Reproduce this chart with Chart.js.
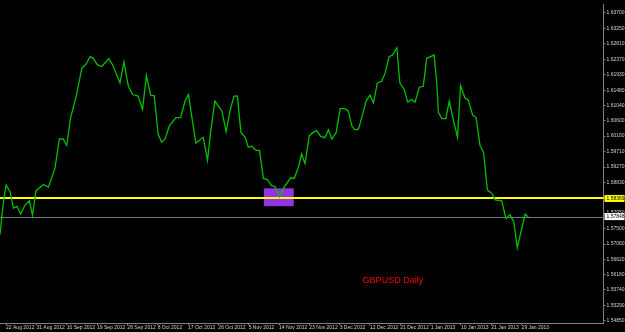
<!DOCTYPE html>
<html>
<head>
<meta charset="utf-8">
<script src="https://cdn.jsdelivr.net/npm/chart.js@4/dist/chart.umd.min.js"></script>
<style>
  html, body { margin: 0; padding: 0; background: #000; }
  canvas { display: block; }
</style>
</head>
<body>
<canvas id="myChart" width="625" height="332"></canvas>
<script>
// bar index (0 = 22 Aug 2012) and daily close
const dayIdx = [-1.4,-1.0,-0.5,0,0.9,1.7,2.5,3.4,4.4,5.4,6.1,6.9,8.6,9.8,11.3,12.3,13.2,14.0,14.9,16.2,
  17.5,18.5,19.4,20.1,21.1,22.1,23.7,24.6,26.3,27.2,28.2,29.2,30.5,31.5,32.4,33.4,34.2,35.1,35.9,36.7,
  37.7,39.2,40.3,41.3,42.1,42.9,43.8,45.5,46.5,47.2,48.2,49.8,50.8,51.7,52.6,53.4,54.2,55.2,55.9,56.7,
  57.7,58.5,59.4,60.3,61.3,62.1,63.1,64.0,65.7,66.5,67.5,68.2,69.0,70.0,70.9,71.7,72.6,73.6,74.4,75.2,
  76.2,77.1,78.2,79.0,79.8,80.5,81.3,82.1,83.1,84.0,84.8,85.7,86.7,87.5,88.4,89.2,90.2,90.9,91.9,92.7,
  93.6,94.4,95.4,96.3,97.1,98.8,99.4,99.8,100.6,101.5,102.3,103.2,104.2,104.9,105.9,106.7,107.7,108.5,109.4,110.2,
  111.1,112.1,112.9,114.4,115.4,116.3,117.2,118.0,119.8,120.5]

const closes = [1.57337,1.57808,1.58375,1.58755,1.58565,1.58091,1.58140,1.57921,1.58188,1.58301,
  1.57884,1.58585,1.58772,1.58699,1.59246,1.60077,1.60077,1.59890,1.60693,1.61308,
  1.62111,1.62233,1.62443,1.62395,1.62205,1.62160,1.62387,1.62205,1.61686,1.62282,
  1.61609,1.61354,1.61308,1.60928,1.61893,1.61326,1.61326,1.60219,1.59984,1.60077,
  1.60457,1.60693,1.60693,1.61167,1.61354,1.60693,1.59964,1.60126,1.59465,1.60267,
  1.61167,1.60883,1.60287,1.60883,1.61308,1.61308,1.60267,1.60126,1.59842,1.59870,
  1.59748,1.59748,1.58943,1.58914,1.58735,1.58707,1.58423,1.58659,1.58962,1.58943,
  1.59274,1.59652,1.59368,1.60174,1.60267,1.60316,1.60154,1.60117,1.60344,1.60077,
  1.60267,1.60948,1.60948,1.60883,1.60457,1.60344,1.60344,1.60693,1.61167,1.61337,
  1.61118,1.61686,1.61734,1.61969,1.62443,1.62489,1.62699,1.61686,1.61496,1.61138,
  1.61212,1.61138,1.61564,1.61592,1.62395,1.62489,1.61706,1.60835,1.60665,1.60665,
  1.61167,1.60645,1.60126,1.61609,1.61260,1.61195,1.60758,1.60693,1.59890,1.59700,
  1.58613,1.58517,1.58330,1.58301,1.57791,1.57904,1.57694,1.56957,1.57921,1.57836]

const dateTicks = [0,7,14,21,28,35,42,49,56,63,70,77,84,91,98,105,112,119]
const dateLabels = ['22 Aug 2012','31 Aug 2012','10 Sep 2012','19 Sep 2012','28 Sep 2012','8 Oct 2012',
  '17 Oct 2012','26 Oct 2012','5 Nov 2012','14 Nov 2012','23 Nov 2012','3 Dec 2012','12 Dec 2012',
  '21 Dec 2012','1 Jan 2013','10 Jan 2013','21 Jan 2013','29 Jan 2013']

const priceTicks = [1.63700,1.63250,1.62810,1.62370,1.61930,1.61480,1.61040,1.60600,1.60160,1.59710,
  1.59270,1.58830,1.58390,1.57950,1.57500,1.57060,1.56620,1.56180,1.55740,1.55290,1.54850]

const levelLine = 1.58369
const bidLine = 1.57848
const zoneBox = { x1: 59.5, x2: 66.4, top: 1.58659, bottom: 1.58148 }
const caption = { text: 'GBPUSD Daily', x: 82.3, y: 1.56012 }

const axisFont = { family: 'Liberation Sans', size: 5 }

// rectangle + horizontal lines under the price line
const overlayPlugin = {
  id: 'overlay',
  beforeDatasetsDraw: chart => {
    const { ctx, chartArea, scales: { x, y } } = chart
    ctx.save()
    ctx.fillStyle = '#9632e6'
    const bx = x.getPixelForValue(zoneBox.x1), by = y.getPixelForValue(zoneBox.top)
    ctx.fillRect(bx, by, x.getPixelForValue(zoneBox.x2) - bx, y.getPixelForValue(zoneBox.bottom) - by)

    ctx.strokeStyle = '#70788a'
    ctx.lineWidth = 1
    let py = Math.round(y.getPixelForValue(bidLine)) + 0.5
    ctx.beginPath(); ctx.moveTo(chartArea.left, py); ctx.lineTo(chartArea.right, py); ctx.stroke()

    ctx.strokeStyle = '#ffff00'
    ctx.lineWidth = 2
    py = Math.round(y.getPixelForValue(levelLine))
    ctx.beginPath(); ctx.moveTo(chartArea.left, py); ctx.lineTo(chartArea.right, py); ctx.stroke()
    ctx.restore()
  },
  afterDraw: chart => {
    const { ctx, chartArea, scales: { x, y } } = chart
    ctx.save()
    ctx.font = '5px Liberation Sans'
    ctx.textBaseline = 'middle'
    const tag = (val, bg) => {
      const py = y.getPixelForValue(val)
      ctx.fillStyle = bg
      ctx.fillRect(chartArea.right + 1, py - 3.5, 20, 7)
      ctx.fillStyle = '#000'
      ctx.fillText(val.toFixed(5), chartArea.right + 3, py)
    }
    tag(levelLine, '#ffff00')
    tag(bidLine, '#ffffff')

    ctx.fillStyle = '#ff0000'
    ctx.font = '9px Liberation Sans'
    ctx.fillText(caption.text, x.getPixelForValue(caption.x), y.getPixelForValue(caption.y))
    ctx.restore()
  }
}

const ctx = document.getElementById('myChart').getContext('2d')
const chart = new Chart(ctx, {
  type: 'line',
  data: {
    datasets: [{
      data: dayIdx.map((d, i) => ({ x: d, y: closes[i] })),
      borderColor: '#00c000',
      borderWidth: 1.3,
      pointRadius: 0,
      tension: 0
    }]
  },
  options: {
    responsive: false,
    animation: false,
    devicePixelRatio: 1,
    layout: { padding: 0 },
    plugins: { legend: { display: false }, tooltip: { enabled: false } },
    scales: {
      x: {
        type: 'linear',
        min: -1.4,
        max: 137.9,
        afterBuildTicks: scale => { scale.ticks = dateTicks.map(v => ({ value: v })) },
        afterFit: scale => { scale.height = 9 },
        grid: { drawOnChartArea: false, color: '#808080', tickLength: 2 },
        border: { color: '#808080' },
        ticks: {
          color: '#d0d0d0',
          font: axisFont,
          align: 'start',
          padding: 0,
          autoSkip: false,
          maxRotation: 0,
          callback: (v, i) => dateLabels[i]
        }
      },
      y: {
        position: 'right',
        min: 1.54792,
        max: 1.63955,
        afterBuildTicks: scale => { scale.ticks = priceTicks.map(v => ({ value: v })) },
        afterFit: scale => { scale.width = 21.5 },
        grid: { drawOnChartArea: false, color: '#808080', tickLength: 2 },
        border: { color: '#808080' },
        ticks: {
          color: '#d0d0d0',
          font: axisFont,
          padding: 1,
          autoSkip: false,
          callback: v => v.toFixed(5)
        }
      }
    }
  },
  plugins: [overlayPlugin]
})
</script>
</body>
</html>
